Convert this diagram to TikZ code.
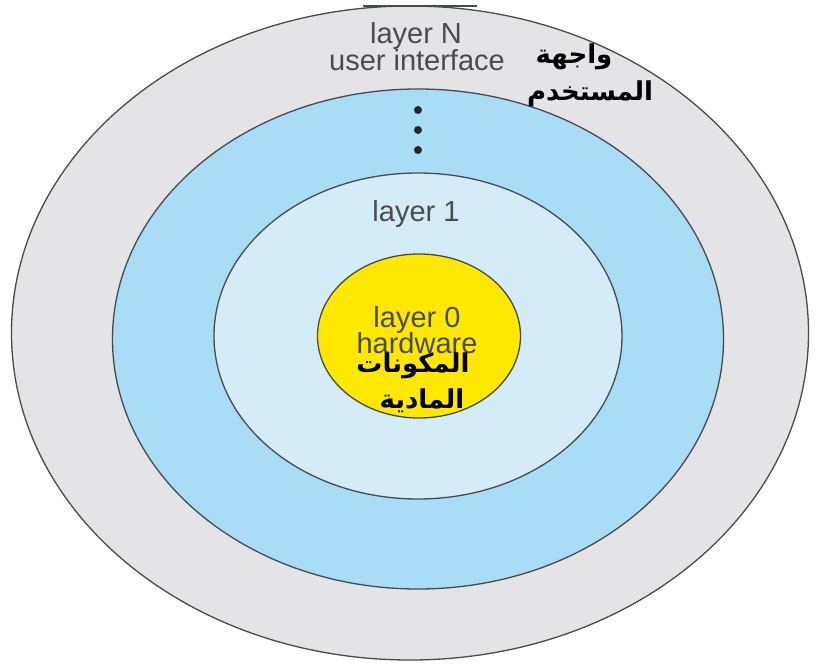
\documentclass[tikz,border=0pt]{standalone}
\usepackage{fontspec}
\setmainfont{Liberation Sans}
\newfontfamily\arabicfont[Script=Arabic]{DejaVu Sans}
\TeXXeTstate=1
\usetikzlibrary{shapes.geometric}
\definecolor{outergray}{RGB}{228,228,230}
\definecolor{midblue}{RGB}{168,221,245}
\definecolor{paleblue}{RGB}{212,236,248}
\definecolor{coreyellow}{RGB}{255,232,0}
\definecolor{edgegray}{RGB}{70,75,80}
\definecolor{labelgray}{RGB}{75,75,75}
\tikzset{
  ring/.style={ellipse, draw=edgegray, line width=1.3pt, inner sep=0pt},
  lbl/.style={text=labelgray, font=\fontsize{29}{31}\selectfont, anchor=base, inner sep=0pt},
  arlbl/.style={text=black, font=\arabicfont\bfseries\fontsize{26}{29}\selectfont, inner sep=0pt},
  dotmark/.style={circle, fill=black!85, inner sep=0pt, minimum size=8pt}
}
\begin{document}
\begin{tikzpicture}[x=1pt,y=-1pt]
\useasboundingbox (0,0) rectangle (819,666);
\node[ring, fill=outergray, minimum width=797pt, minimum height=654pt] (outer) at (410,333) {};
\node[ring, fill=midblue, minimum width=611pt, minimum height=500pt] (blue) at (418,339) {};
\node[ring, fill=paleblue, minimum width=408pt, minimum height=326pt] (pale) at (418,336) {};
\node[ring, fill=coreyellow, minimum width=203pt, minimum height=164pt] (core) at (419,336) {};
\coordinate (barL) at (363,6);
\coordinate (barR) at (477,6);
\draw[edgegray, line width=2.2pt] (barL) -- (barR);
\node[lbl] (layerN) at (416,44) {layer N};
\node[lbl] (ui) at (417,71) {user interface};
\node[arlbl] (ar1) at (574,57) {\beginR واجهة\endR};
\node[arlbl] (ar2) at (590,94) {\beginR المستخدم\endR};
\node[dotmark] (d1) at (418,110) {};
\node[dotmark] (d2) at (418,130) {};
\node[dotmark] (d3) at (418,150) {};
\node[lbl] (layer1) at (416,221) {layer 1};
\node[lbl] (layer0) at (417,327) {layer 0};
\node[lbl] (hw) at (417,353) {hardware};
\node[arlbl] (ar3) at (413,366) {\beginR المكونات\endR};
\node[arlbl] (ar4) at (422,401) {\beginR المادية\endR};
\end{tikzpicture}
\end{document}
